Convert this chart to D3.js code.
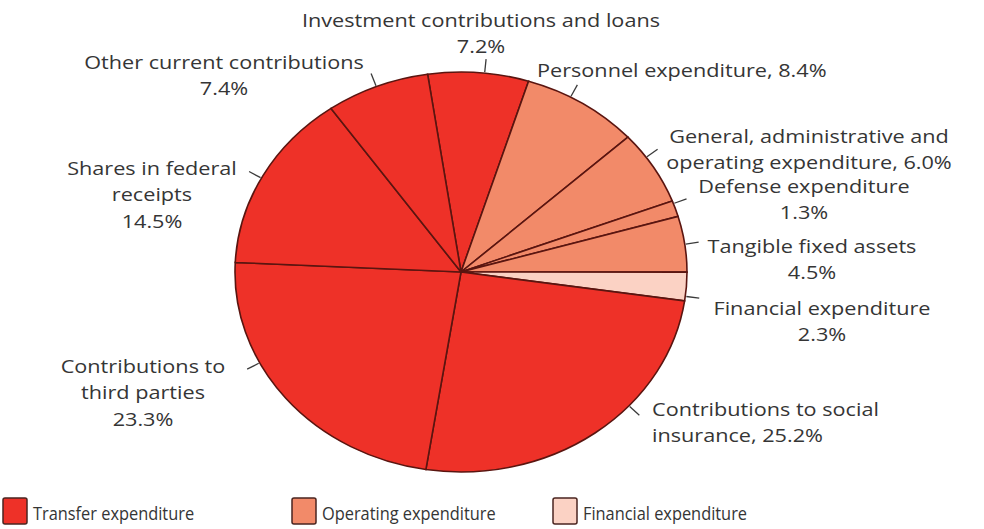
<!doctype html>
<html>
<head>
<meta charset="utf-8">
<style>
  body { margin: 0; background: #fff; }
  svg text { font-family: "Open Sans", sans-serif; fill: #353535; }
  .slices path { stroke: #5a1510; stroke-width: 1.6; vector-effect: non-scaling-stroke; }
  .ticks line { stroke: #3a3a3a; stroke-width: 1.3; }
</style>
</head>
<body>
<svg width="984" height="529"></svg>
<script src="https://cdn.jsdelivr.net/npm/d3@7"></script>
<script>
  // data, clockwise from the top
  var names = ["Investment contributions and loans", "Personnel expenditure",
    "General, administrative and operating expenditure", "Defense expenditure",
    "Tangible fixed assets", "Financial expenditure", "Contributions to social insurance",
    "Contributions to third parties", "Shares in federal receipts", "Other current contributions"];
  var shares = [7.2, 8.4, 6.0, 1.3, 4.5, 2.3, 25.2, 23.3, 14.5, 7.4];
  var groups = ["Transfer", "Operating", "Operating", "Operating", "Operating", "Financial",
    "Transfer", "Transfer", "Transfer", "Transfer"];
  var legendNames = ["Transfer expenditure", "Operating expenditure", "Financial expenditure"];
  var legendKeys = ["Transfer", "Operating", "Financial"];

  // label layout
  var labels = [
    { lines: ["Investment contributions and loans", "7.2%"], x: 481, y: 27, anchor: "middle", tick: 6 },
    { lines: ["Personnel expenditure, 8.4%"], x: 537, y: 77, anchor: "start", tick: 29 },
    { lines: ["General, administrative and", "operating expenditure, 6.0%"], x: 809, y: 143, anchor: "middle", tick: 55 },
    { lines: ["Defense expenditure", "1.3%"], x: 804, y: 193, anchor: "middle", tick: 70 },
    { lines: ["Tangible fixed assets", "4.5%"], x: 812, y: 253, anchor: "middle", tick: 82 },
    { lines: ["Financial expenditure", "2.3%"], x: 822, y: 315, anchor: "middle", tick: 97 },
    { lines: ["Contributions to social", "insurance, 25.2%"], x: 652, y: 416, anchor: "start", tick: 132 },
    { lines: ["Contributions to", "third parties", "23.3%"], x: 143, y: 373, anchor: "middle", tick: 243 },
    { lines: ["Shares in federal", "receipts", "14.5%"], x: 152, y: 175, anchor: "middle", tick: 298 },
    { lines: ["Other current contributions", "7.4%"], x: 224, y: 69, anchor: "middle", tick: 338 }
  ];

  var svg = d3.select("svg");
  var cx = 461, cy = 272, rx = 226, ry = 200;
  var stretch = rx / ry;   // the whole figure is wider than tall

  var color = d3.scaleOrdinal()
    .domain(legendKeys)
    .range(["#ee3128", "#f28a69", "#fbd2c4"]);

  var pie = d3.pie().sort(null)
    .startAngle(-8.5 * Math.PI / 180)
    .endAngle(351.5 * Math.PI / 180)
    .value(function (d, i) { return shares[i]; });

  var arc = d3.arc().innerRadius(0).outerRadius(ry);

  svg.append("g")
    .attr("class", "slices")
    .attr("transform", "translate(" + cx + "," + cy + ") scale(" + stretch + ",1)")
    .selectAll("path")
    .data(pie(names))
    .enter().append("path")
    .attr("d", arc)
    .attr("fill", function (d, i) { return color(groups[i]); });

  // leader ticks on the ellipse edge
  function edge(a, extra) {
    var t = a * Math.PI / 180;
    return [cx + (rx + extra) * Math.sin(t), cy - (ry + extra) * Math.cos(t)];
  }

  svg.append("g")
    .attr("class", "ticks")
    .selectAll("line")
    .data(labels)
    .enter().append("line")
    .attr("x1", function (d) { return edge(d.tick, 1)[0]; })
    .attr("y1", function (d) { return edge(d.tick, 1)[1]; })
    .attr("x2", function (d) { return edge(d.tick, 14)[0]; })
    .attr("y2", function (d) { return edge(d.tick, 14)[1]; });

  var lab = svg.append("g")
    .attr("class", "labels")
    .selectAll("text")
    .data(labels)
    .enter().append("text")
    .attr("text-anchor", function (d) { return d.anchor; })
    .attr("font-size", 19)
    .attr("transform", function (d) {
      return "translate(" + d.x + ",0) scale(1.14,1) translate(" + (-d.x) + ",0)";
    });

  lab.selectAll("tspan")
    .data(function (d) { return d.lines.map(function (l) { return { t: l, x: d.x, y: d.y }; }); })
    .enter().append("tspan")
    .attr("x", function (d) { return d.x; })
    .attr("y", function (d, i) { return d.y + i * 26.5; })
    .text(function (d) { return d.t; });

  // legend
  var legendX = [3, 292, 553];
  var leg = svg.append("g")
    .selectAll("g")
    .data(legendKeys)
    .enter().append("g")
    .attr("transform", function (d, i) { return "translate(" + legendX[i] + ",498)"; });

  leg.append("rect")
    .attr("width", 24).attr("height", 26)
    .attr("rx", 2)
    .attr("fill", function (d) { return color(d); })
    .attr("stroke", "#4a2520")
    .attr("stroke-width", 1.5);

  leg.append("text")
    .attr("x", 30)
    .attr("y", 22)
    .attr("font-size", 18)
    .attr("transform", "translate(30,0) scale(0.91,1) translate(-30,0)")
    .text(function (d, i) { return legendNames[i]; });
</script>
</body>
</html>
